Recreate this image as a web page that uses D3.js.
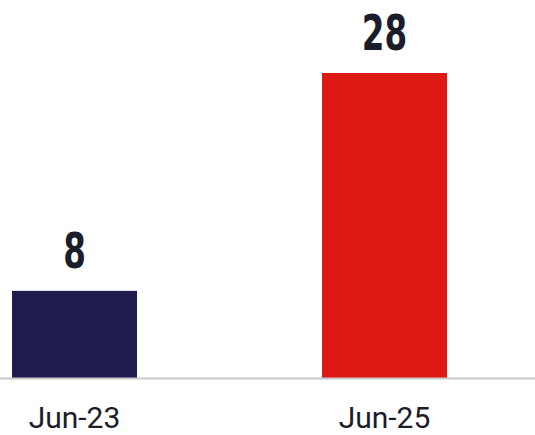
<!DOCTYPE html>
<html>
<head>
<meta charset="utf-8">
<script src="https://cdn.jsdelivr.net/npm/d3@7"></script>
<style>
  html, body { margin: 0; padding: 0; background: #fff; }
</style>
</head>
<body>
<script>
const categories = ["Jun-23", "Jun-25"];
const values = [8, 28];
const barColors = ["#201b4f", "#dc1a13"];

const width = 535, height = 435;
const baseline = 378;

const svg = d3.select("body")
  .append("svg")
  .attr("width", width)
  .attr("height", height);

const x = d3.scaleBand()
  .domain(categories)
  .range([12, 447])
  .paddingInner(0.5968)
  .paddingOuter(0);

const y = d3.scaleLinear()
  .domain([0, 28])
  .range([baseline, 73]);

// bars
svg.selectAll("rect.bar")
  .data(values)
  .enter().append("rect")
  .attr("class", "bar")
  .attr("x", (d, i) => x(categories[i]))
  .attr("y", d => y(d))
  .attr("width", x.bandwidth())
  .attr("height", d => y(0) - y(d))
  .attr("fill", (d, i) => barColors[i]);

// baseline
svg.append("line")
  .attr("x1", 0).attr("x2", width)
  .attr("y1", baseline + 0.5).attr("y2", baseline + 0.5)
  .attr("stroke", "#c9c9c9")
  .attr("stroke-width", 2);

// value labels (condensed bold)
svg.selectAll("text.value")
  .data(values)
  .enter().append("text")
  .attr("class", "value")
  .attr("transform", (d, i) =>
    "translate(" + (x(categories[i]) + x.bandwidth() / 2) + "," + (y(d) - 23) + ") scale(0.74,1.02)")
  .attr("text-anchor", "middle")
  .attr("font-family", "'Liberation Sans Narrow', 'DejaVu Sans Condensed', sans-serif")
  .attr("font-weight", "bold")
  .attr("font-size", 49)
  .attr("fill", "#1b1d2a")
  .text(d => d);

// category labels
svg.selectAll("text.cat")
  .data(categories)
  .enter().append("text")
  .attr("class", "cat")
  .attr("x", d => x(d) + x.bandwidth() / 2)
  .attr("y", 428)
  .attr("text-anchor", "middle")
  .attr("font-family", "Roboto, sans-serif")
  .attr("font-size", 30)
  .attr("fill", "#1b1d2a")
  .text(d => d);
</script>
</body>
</html>
